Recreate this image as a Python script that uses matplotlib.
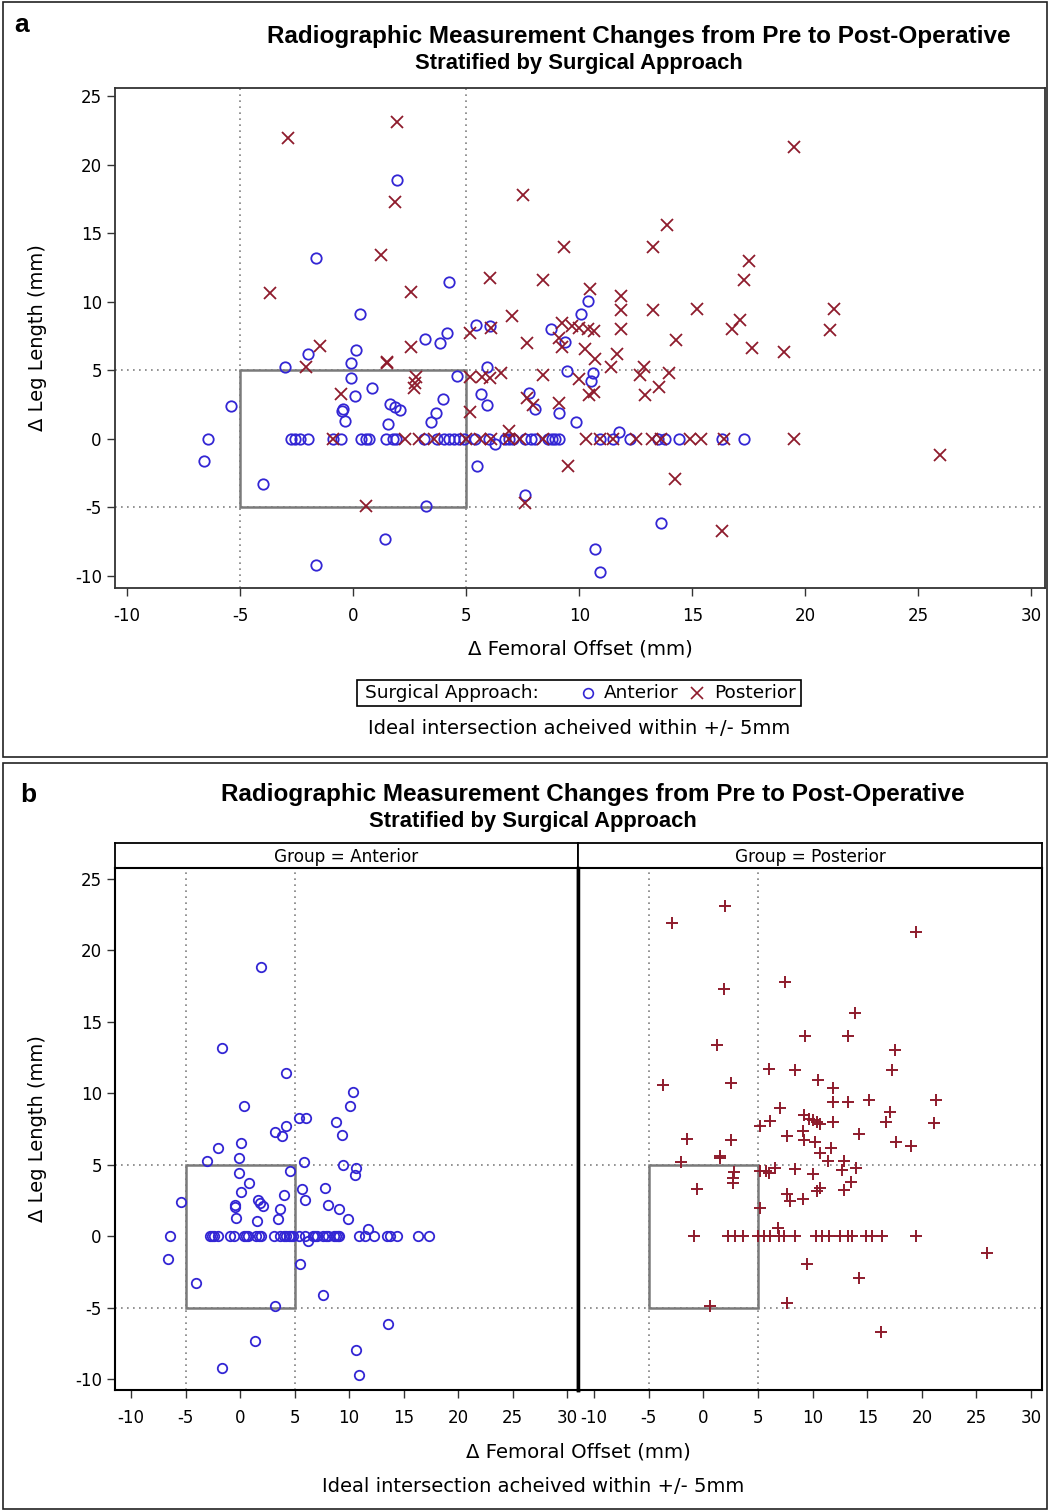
import matplotlib
matplotlib.use("Agg")
import matplotlib.pyplot as plt
from matplotlib.lines import Line2D
from matplotlib.patches import Rectangle

# ---- data (Δ femoral offset, Δ leg length, mm) ----
ant_x = [-6.6, -5.4, -4.0, -3.0, -2.0, -1.65, -1.62, 0.12, -0.08, -0.09, 0.85, 0.1,
         -0.5, -0.45, -0.35, 1.65, 1.85, 2.07, 1.53, 3.99, 3.68, 3.44, 4.58, 3.17,
         3.86, 4.17, 5.9, 5.65, 5.93, 5.48, 7.6, 3.22, 1.39, 7.8, 8.05, 9.1, 9.87,
         9.47, 8.77, 9.38, 1.95, 4.25, 0.32, 10.1, 10.4, 5.42, 6.04, 10.6, 10.5,
         13.6, 10.68, 10.9, 6.27, 11.77,
         -6.4, -2.75, -2.55, -2.35, -2.0, -0.9, -0.53, 0.35, 0.56, 0.72, 1.45, 1.75,
         1.9, 3.15, 3.7, 4.0, 4.25, 4.45, 4.7, 4.9, 5.4, 6.0, 6.7, 6.9, 7.05, 7.6,
         7.85, 8.05, 8.6, 8.8, 8.95, 9.1, 10.9, 11.5, 12.25, 13.5, 13.8, 14.4, 16.3, 17.3]
ant_y = [-1.6, 2.4, -3.3, 5.25, 6.2, 13.15, -9.2, 6.5, 5.5, 4.4, 3.7, 3.1,
         2.05, 2.15, 1.3, 2.55, 2.3, 2.1, 1.07, 2.9, 1.9, 1.2, 4.55, 7.3,
         7.0, 7.7, 5.22, 3.3, 2.5, -1.97, -4.1, -4.9, -7.32, 3.35, 2.18, 1.9, 1.19,
         4.97, 7.98, 7.06, 18.87, 11.4, 9.1, 9.08, 10.08, 8.3, 8.25, 4.8, 4.25,
         -6.12, -8.0, -9.7, -0.35, 0.5,
         0, 0, 0, 0, 0, 0, 0, 0, 0, 0, 0, 0,
         0, 0, 0, 0, 0, 0, 0, 0, 0, 0, 0, 0, 0, 0,
         0, 0, 0, 0, 0, 0, 0, 0, 0, 0, 0, 0, 0, 0]

post_x = [-2.9, 1.96, 1.86, 1.22, -3.67, 2.57, -1.46, -2.08, -0.54, 1.49, 1.52, 2.55,
          2.79, 2.74, 2.7, 0.58, 19.48, 7.5, 13.9, 9.31, 13.27, 17.5, 17.27, 6.05,
          8.41, 10.49, 11.87, 11.87, 13.27, 15.2, 21.26, 7.04, 17.09, 16.76, 21.08,
          11.85, 6.1, 5.15, 9.26, 9.68, 10.0, 10.4, 10.67, 7.67, 14.29, 17.63, 19.04,
          9.1, 9.22, 10.25, 10.7, 11.69, 11.4, 12.86, 12.69, 13.96, 13.55, 12.89,
          10.0, 10.42, 10.67, 6.55, 8.39, 5.15, 5.72, 6.05, 7.7, 7.95, 9.1, 5.15,
          6.88, 9.51, 14.24, 25.94, 7.62, 16.3,
          -0.87, 2.3, 2.9, 3.6, 5.0, 5.6, 6.1, 6.9, 7.4, 8.4, 10.3, 10.9, 11.5,
          12.5, 13.2, 13.6, 14.9, 15.4, 16.4, 19.5]
post_y = [21.9, 23.1, 17.3, 13.4, 10.6, 10.7, 6.8, 5.2, 3.3, 5.5, 5.6, 6.7,
          4.5, 4.06, 3.7, -4.9, 21.3, 17.8, 15.6, 14.0, 14.0, 13.0, 11.6, 11.7,
          11.6, 10.9, 10.4, 9.36, 9.4, 9.5, 9.5, 8.95, 8.66, 7.97, 7.93,
          8.0, 8.05, 7.7, 8.46, 8.2, 8.1, 7.97, 7.86, 6.98, 7.17, 6.59, 6.3,
          7.34, 6.73, 6.56, 5.81, 6.2, 5.23, 5.23, 4.62, 4.79, 3.77, 3.21,
          4.38, 3.16, 3.38, 4.79, 4.67, 4.54, 4.54, 4.43, 2.97, 2.48, 2.6, 1.99,
          0.6, -1.95, -2.92, -1.17, -4.69, -6.71,
          0, 0, 0, 0, 0, 0, 0, 0, 0, 0, 0, 0, 0,
          0, 0, 0, 0, 0, 0, 0]

x_ticks = [-10, -5, 0, 5, 10, 15, 20, 25, 30]
y_ticks = [-10, -5, 0, 5, 10, 15, 20, 25]

BLUE = "#3326d4"
RED = "#8e1b2c"
GREY = "#808080"
TITLE_FONT = ["Liberation Sans", "DejaVu Sans"]

plt.rcParams["font.family"] = ["DejaVu Sans"]
plt.rcParams["axes.unicode_minus"] = False

W, H = 1049, 1510
fig = plt.figure(figsize=(W / 100, H / 100), dpi=100)


def rect(l, t, r, b):
    return [l / W, 1 - b / H, (r - l) / W, (b - t) / H]


def fx(px):
    return px / W


def fy(py):
    return 1 - py / H


def decorate(ax, xlim, ylim, frame_col, frame_lw):
    ax.set_xlim(*xlim)
    ax.set_ylim(*ylim)
    ax.set_xticks(x_ticks)
    ax.set_yticks(y_ticks)
    ax.tick_params(direction="out", length=6, width=1, labelsize=12, color="#333333")
    ax.tick_params(axis="x", pad=8)
    for s in ax.spines.values():
        s.set_color(frame_col)
        s.set_linewidth(frame_lw)
    for v in (-5, 5):
        ax.axvline(v, color=GREY, ls=(0, (1, 2.6)), lw=1.2, zorder=1)
        ax.axhline(v, color=GREY, ls=(0, (1, 2.6)), lw=1.2, zorder=1)
    ax.add_patch(Rectangle((-5, -5), 10, 10, fill=False, ec="#7a7a7a", lw=1.8, zorder=2))


# panel borders
fig.patches.append(Rectangle((fx(3), fy(757)), fx(1044), 755 / H, transform=fig.transFigure,
                             fill=False, ec="#222222", lw=1.2))
fig.patches.append(Rectangle((fx(3), fy(1509)), fx(1044), 746 / H, transform=fig.transFigure,
                             fill=False, ec="#222222", lw=1.2))

# ---------------- panel a ----------------
fig.text(fx(14), fy(25), "a", fontsize=19, fontweight="bold", va="center", family=TITLE_FONT)
fig.text(fx(639), fy(37), "Radiographic Measurement Changes from Pre to Post-Operative",
         ha="center", va="center", fontsize=17.5, fontweight="bold", family=TITLE_FONT)
fig.text(fx(579), fy(64), "Stratified by Surgical Approach",
         ha="center", va="center", fontsize=15.8, fontweight="bold", family=TITLE_FONT)

ax = fig.add_axes(rect(115, 88, 1045, 588))
decorate(ax, (-10.53, 30.6), (-10.88, 25.58), "#333333", 1.3)
ax.plot(ant_x, ant_y, "o", ms=7.5, mfc="none", mec=BLUE, mew=1.3, zorder=3)
ax.plot(post_x, post_y, "x", ms=8, mec=RED, mew=1.3, zorder=3)
ax.set_xlabel("Δ Femoral Offset (mm)", fontsize=14.2)
ax.set_ylabel("Δ Leg Length (mm)", fontsize=14)
ax.xaxis.set_label_coords(0.5, -(640 - 588) / 500)
ax.yaxis.set_label_coords(-(115 - 47) / 930, 0.5)

# legend box drawn by hand: "Surgical Approach:  o Anterior  x Posterior"
fig.patches.append(Rectangle((fx(357), fy(706)), fx(444), 26 / H, transform=fig.transFigure,
                             fill=False, ec="black", lw=1.2))
fig.text(fx(365), fy(693), "Surgical Approach:", va="center", fontsize=13.3)
fig.add_artist(Line2D([fx(588)], [fy(693)], transform=fig.transFigure, ls="none",
                      marker="o", ms=7, mfc="none", mec=BLUE, mew=1.2))
fig.text(fx(604), fy(693), "Anterior", va="center", fontsize=13.3)
fig.add_artist(Line2D([fx(697)], [fy(693)], transform=fig.transFigure, ls="none",
                      marker="x", ms=8, mec=RED, mew=1.2))
fig.text(fx(714), fy(693), "Posterior", va="center", fontsize=13.3)

fig.text(fx(579), fy(728), "Ideal intersection acheived within +/- 5mm",
         ha="center", va="center", fontsize=14)

# ---------------- panel b ----------------
fig.text(fx(20), fy(795), "b", fontsize=19, fontweight="bold", va="center", family=TITLE_FONT)
fig.text(fx(593), fy(794), "Radiographic Measurement Changes from Pre to Post-Operative",
         ha="center", va="center", fontsize=17.5, fontweight="bold", family=TITLE_FONT)
fig.text(fx(533), fy(821), "Stratified by Surgical Approach",
         ha="center", va="center", fontsize=15.8, fontweight="bold", family=TITLE_FONT)

panels = [("Anterior", 115, 578, ant_x, ant_y, "o"),
          ("Posterior", 578, 1042, post_x, post_y, "+")]
for name, l, r, xs, ys, mk in panels:
    strip = fig.add_axes(rect(l, 843, r, 868))
    strip.set_xticks([])
    strip.set_yticks([])
    for s in strip.spines.values():
        s.set_color("black")
        s.set_linewidth(1.3)
    strip.text(0.5, 0.45, "Group = " + name, ha="center", va="center", fontsize=12.2,
               transform=strip.transAxes)

    bx = fig.add_axes(rect(l, 868, r, 1390))
    decorate(bx, (-11.47, 31.0), (-10.77, 25.77), "black", 1.5)
    if mk == "o":
        bx.plot(xs, ys, "o", ms=6.8, mfc="none", mec=BLUE, mew=1.3, zorder=3)
        bx.spines["right"].set_linewidth(2.5)
        bx.set_ylabel("Δ Leg Length (mm)", fontsize=14)
        bx.yaxis.set_label_coords(-(115 - 47) / 463, 0.5)
    else:
        bx.plot(xs, ys, "+", ms=8, mec=RED, mew=1.4, zorder=3)
        bx.spines["left"].set_linewidth(2.5)
        bx.tick_params(axis="y", left=False, labelleft=False)

fig.text(fx(578), fy(1452), "Δ Femoral Offset (mm)", ha="center", va="center", fontsize=14.2)
fig.text(fx(533), fy(1487), "Ideal intersection acheived within +/- 5mm",
         ha="center", va="center", fontsize=14)

fig.savefig("out.png", dpi=100)
